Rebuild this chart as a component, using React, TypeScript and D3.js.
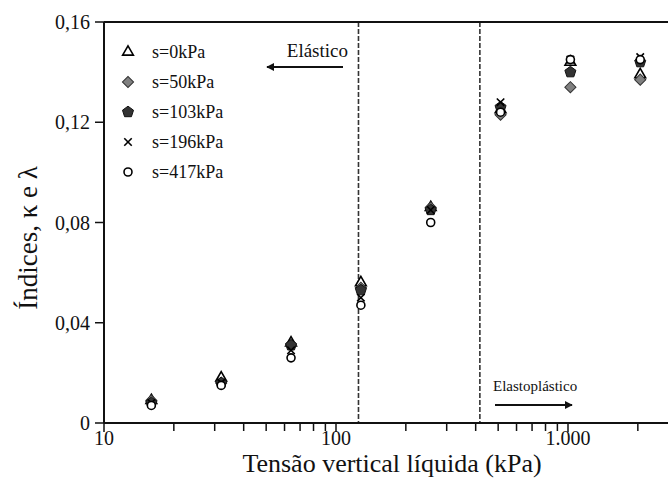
import { useEffect, useRef } from 'react';
import * as d3 from 'd3';

const tensao = [16, 32, 64, 128, 256, 512, 1024, 2048];

const s0 = [0.009, 0.018, 0.032, 0.056, 0.086, 0.125, 0.144, 0.139];
const s50 = [0.009, 0.016, 0.031, 0.054, 0.086, 0.123, 0.134, 0.137];
const s103 = [0.008, 0.016, 0.031, 0.053, 0.085, 0.126, 0.14, 0.144];
const s196 = [0.008, 0.016, 0.029, 0.05, 0.085, 0.128, 0.145, 0.146];
const s417 = [0.007, 0.015, 0.026, 0.047, 0.08, 0.124, 0.145, 0.145];

const seriesNames = ['s=0kPa', 's=50kPa', 's=103kPa', 's=196kPa', 's=417kPa'];
const limites = [125, 417];
const yTicks = [0, 0.04, 0.08, 0.12, 0.16];
const xMajor = [10, 100, 1000];
const xLabels = ['10', '100', '1.000'];

const W = 668;
const H = 493;
const FONT = '"Liberation Serif", "Times New Roman", serif';

// regular pentagon path centred on 0,0
function pentagon(r: number) {
  const pts = d3.range(5).map((i) => {
    const a = -Math.PI / 2 + (i * 2 * Math.PI) / 5;
    return [r * Math.cos(a), r * Math.sin(a)];
  });
  return 'M' + pts.map((p) => p.join(',')).join('L') + 'Z';
}

type Marker = { path: string; fill: string; stroke: string; width: number };

const markers: Marker[] = [
  { path: d3.symbol(d3.symbolTriangle, 50)() || '', fill: '#fff', stroke: '#000', width: 1.6 },
  { path: d3.symbol(d3.symbolSquare, 62)() || '', fill: '#808080', stroke: '#333', width: 1 },
  { path: pentagon(5.8), fill: '#333', stroke: '#111', width: 1 },
  { path: d3.symbol(d3.symbolTimes, 38)() || '', fill: 'none', stroke: '#000', width: 1.6 },
  { path: d3.symbol(d3.symbolCircle, 50)() || '', fill: '#fff', stroke: '#000', width: 1.6 },
];

export default function App() {
  const ref = useRef<SVGSVGElement>(null);

  useEffect(() => {
    document.body.style.margin = '0';
    if (!ref.current) return;
    const svg = d3.select(ref.current);
    svg.selectAll('*').remove();

    const left = 104;
    const top = 22;
    const bottom = 423;

    const x = d3.scaleLog().domain([10, 10000]).range([left, 800]);
    const y = d3.scaleLinear().domain([0, 0.16]).range([bottom, top]);

    const g = svg.append('g');

    // limit lines
    g.selectAll('.lim')
      .data(limites)
      .enter()
      .append('line')
      .attr('x1', (d) => x(d))
      .attr('x2', (d) => x(d))
      .attr('y1', top)
      .attr('y2', bottom)
      .attr('stroke', '#333')
      .attr('stroke-width', 1.6)
      .attr('stroke-dasharray', '5,2');

    // frame
    g.append('line').attr('x1', left).attr('x2', W).attr('y1', top).attr('y2', top).attr('stroke', '#111').attr('stroke-width', 2);
    g.append('line').attr('x1', left).attr('x2', W).attr('y1', bottom).attr('y2', bottom).attr('stroke', '#111').attr('stroke-width', 2);
    g.append('line').attr('x1', left).attr('x2', left).attr('y1', top).attr('y2', bottom).attr('stroke', '#111').attr('stroke-width', 2);

    // y ticks
    const fmt = (d: number) => (d === 0 ? '0' : d3.format('.2f')(d).replace('.', ','));
    yTicks.forEach((t) => {
      g.append('line').attr('x1', left - 9).attr('x2', left).attr('y1', y(t)).attr('y2', y(t)).attr('stroke', '#111').attr('stroke-width', 1.5);
      g.append('text')
        .attr('x', left - 14)
        .attr('y', y(t))
        .attr('dy', '0.35em')
        .attr('text-anchor', 'end')
        .style('font-family', FONT)
        .style('font-size', '20px')
        .attr('fill', '#111')
        .text(fmt(t));
    });

    // x ticks (major + minor)
    const minor: number[] = [];
    [10, 100, 1000].forEach((dec) => d3.range(2, 10).forEach((k) => minor.push(dec * k)));
    minor.filter((v) => x(v) <= W).forEach((v) => {
      g.append('line').attr('x1', x(v)).attr('x2', x(v)).attr('y1', bottom).attr('y2', bottom + 8).attr('stroke', '#111').attr('stroke-width', 1.5);
    });
    xMajor.forEach((v, i) => {
      g.append('line').attr('x1', x(v)).attr('x2', x(v)).attr('y1', bottom).attr('y2', bottom + 9).attr('stroke', '#111').attr('stroke-width', 1.5);
      g.append('text')
        .attr('x', x(v))
        .attr('y', 445)
        .attr('text-anchor', 'middle')
        .style('font-family', FONT)
        .style('font-size', '20px')
        .attr('fill', '#111')
        .text(xLabels[i]);
    });

    // axis titles
    g.append('text')
      .attr('x', 392)
      .attr('y', 472)
      .attr('text-anchor', 'middle')
      .style('font-family', FONT)
      .style('font-size', '26px')
      .attr('fill', '#111')
      .text('Tensão vertical líquida (kPa)');
    g.append('text')
      .attr('transform', 'translate(37,238) rotate(-90)')
      .attr('text-anchor', 'middle')
      .style('font-family', FONT)
      .style('font-size', '27px')
      .attr('fill', '#111')
      .text('Índices, κ e λ');

    // data
    const all = [s0, s50, s103, s196, s417];
    all.forEach((vals, si) => {
      const m = markers[si];
      g.selectAll('.m' + si)
        .data(vals)
        .enter()
        .append('path')
        .attr('d', m.path)
        .attr('transform', (d, i) => `translate(${x(tensao[i])},${y(d)})${si === 1 ? ' rotate(45)' : ''}`)
        .attr('fill', m.fill)
        .attr('stroke', m.stroke)
        .attr('stroke-width', m.width);
    });

    // legend
    seriesNames.forEach((name, i) => {
      const ly = 52 + i * 30;
      const m = markers[i];
      g.append('path')
        .attr('d', m.path)
        .attr('transform', `translate(128,${ly})${i === 1 ? ' rotate(45)' : ''}`)
        .attr('fill', m.fill)
        .attr('stroke', m.stroke)
        .attr('stroke-width', m.width);
      g.append('text')
        .attr('x', 152)
        .attr('y', ly + 6)
        .style('font-family', FONT)
        .style('font-size', '18px')
        .attr('fill', '#111')
        .text(name);
    });

    // annotations
    const defs = svg.append('defs');
    defs.append('marker')
      .attr('id', 'head')
      .attr('viewBox', '0 0 10 10')
      .attr('refX', 9)
      .attr('refY', 5)
      .attr('markerWidth', 4)
      .attr('markerHeight', 4)
      .attr('orient', 'auto')
      .append('path')
      .attr('d', 'M0,0L10,5L0,10Z')
      .attr('fill', '#111');

    g.append('text')
      .attr('x', 348)
      .attr('y', 57)
      .attr('text-anchor', 'end')
      .style('font-family', FONT)
      .style('font-size', '19px')
      .attr('fill', '#111')
      .text('Elástico');
    g.append('line').attr('x1', 343).attr('x2', 267).attr('y1', 67).attr('y2', 67).attr('stroke', '#111').attr('stroke-width', 2).attr('marker-end', 'url(#head)');

    g.append('text')
      .attr('x', 493)
      .attr('y', 391)
      .style('font-family', FONT)
      .style('font-size', '15px')
      .attr('fill', '#111')
      .text('Elastoplástico');
    g.append('line').attr('x1', 495).attr('x2', 572).attr('y1', 405).attr('y2', 405).attr('stroke', '#111').attr('stroke-width', 2).attr('marker-end', 'url(#head)');
  }, []);

  return <svg ref={ref} width={W} height={H} style={{ display: 'block', background: '#fff' }} />;
}
